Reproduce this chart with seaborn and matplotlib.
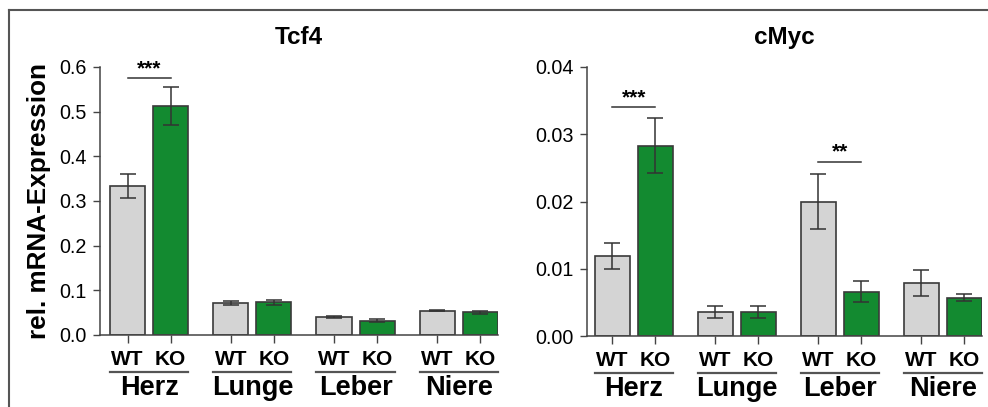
import numpy as np
import pandas as pd
import matplotlib.pyplot as plt
import seaborn as sns
from matplotlib.lines import Line2D

tissues = ["Herz", "Lunge", "Leber", "Niere"]
genotypes = ["WT", "KO"]

tcf4_wt = [0.333, 0.072, 0.041, 0.054]
tcf4_wt_err = [0.027, 0.004, 0.002, 0.001]
tcf4_ko = [0.513, 0.073, 0.032, 0.051]
tcf4_ko_err = [0.042, 0.005, 0.003, 0.003]

cmyc_wt = [0.0119, 0.0036, 0.0200, 0.0079]
cmyc_wt_err = [0.0019, 0.0009, 0.0041, 0.0019]
cmyc_ko = [0.0283, 0.0036, 0.0066, 0.0057]
cmyc_ko_err = [0.0041, 0.0009, 0.0016, 0.0005]

# significance brackets: (tissue index, height, stars)
tcf4_sig = [(0, 0.575, "***")]
cmyc_sig = [(0, 0.034, "***"), (2, 0.0259, "**")]

colors = {"WT": "#d4d4d4", "KO": "#138a30"}
edge = "#3a3a3a"

plt.rcParams['font.family'] = ['Liberation Sans', 'DejaVu Sans']


def make_df(wt, wt_err, ko, ko_err):
    rows = []
    for i, t in enumerate(tissues):
        rows.append({"tissue": t, "genotype": "WT", "value": wt[i], "err": wt_err[i]})
        rows.append({"tissue": t, "genotype": "KO", "value": ko[i], "err": ko_err[i]})
    return pd.DataFrame(rows)


def draw_panel(ax, df, title, ylim, yticks, yfmt, xlim, sig):
    sns.barplot(data=df, x="tissue", y="value", hue="genotype", hue_order=genotypes,
                order=tissues, errorbar=None, width=0.835, gap=0.185, saturation=1,
                palette=colors, edgecolor=edge, linewidth=1.2, legend=False, ax=ax)

    centers = {}
    for k, g in enumerate(genotypes):
        for i, t in enumerate(tissues):
            p = ax.patches[k * len(tissues) + i]
            cx = p.get_x() + p.get_width() / 2
            centers[(t, g)] = cx
            row = df[(df.tissue == t) & (df.genotype == g)].iloc[0]
            ax.errorbar(cx, row["value"], yerr=row["err"], color="#333333",
                        lw=1.1, capsize=5.5, capthick=1.1, zorder=5)

    ax.set_ylim(*ylim)
    ax.set_yticks(yticks)
    ax.set_yticklabels([yfmt.format(v) for v in yticks], fontsize=14.2)
    ax.set_xlim(*xlim)

    xt = [centers[(t, g)] for t in tissues for g in genotypes]
    xl = [g for t in tissues for g in genotypes]
    ax.set_xticks(xt)
    ax.set_xticklabels(xl, fontsize=15, fontweight="bold")
    ax.tick_params(axis="x", length=6, width=1, color="#444444", pad=5)
    ax.tick_params(axis="y", length=5, width=1, color="#444444", pad=4.5)
    ax.set_xlabel("")
    ax.set_ylabel("")
    sns.despine(ax=ax)
    for s in ["left", "bottom"]:
        ax.spines[s].set_color("#444444")
        ax.spines[s].set_linewidth(1.1)

    trans = ax.get_xaxis_transform()
    for t in tissues:
        x0 = centers[(t, "WT")] - 0.17
        x1 = centers[(t, "KO")] + 0.17
        ax.plot([x0, x1], [-0.138, -0.138], transform=trans, color="#555555",
                lw=1.6, clip_on=False)
        ax.text((x0 + x1) / 2, -0.197, t, transform=trans, ha="center", va="center",
                fontsize=19.5, fontweight="bold")

    for i, h, stars in sig:
        t = tissues[i]
        x0, x1 = centers[(t, "WT")], centers[(t, "KO")]
        ax.plot([x0, x1], [h, h], color="#333333", lw=1.1)
        ax.text((x0 + x1) / 2, h, stars, ha="center", va="bottom", fontsize=15,
                fontweight="bold")

    ax.text(0.5, 1.0 + 29 / 268, title, transform=ax.transAxes, ha="center",
            va="center", fontsize=17.5, fontweight="bold")


fig = plt.figure(figsize=(9.88, 4.07), dpi=100)
ax1 = fig.add_axes([100 / 988, 72 / 407, 398 / 988, 268 / 407])
ax2 = fig.add_axes([587 / 988, 71 / 407, 395 / 988, 269 / 407])

draw_panel(ax1, make_df(tcf4_wt, tcf4_wt_err, tcf4_ko, tcf4_ko_err), "Tcf4",
           (0, 0.6), [0.0, 0.1, 0.2, 0.3, 0.4, 0.5, 0.6], "{:.1f}", (-0.476, 3.38), tcf4_sig)
draw_panel(ax2, make_df(cmyc_wt, cmyc_wt_err, cmyc_ko, cmyc_ko_err), "cMyc",
           (0, 0.04), [0.0, 0.01, 0.02, 0.03, 0.04], "{:.2f}", (-0.456, 3.38), cmyc_sig)

ax1.set_ylabel("rel. mRNA-Expression", fontsize=18.8, fontweight="bold", labelpad=6)

# frame around the figure (cropped on the right and bottom)
fx = 8.5 / 988
fy = 1 - 9.5 / 407
fig.add_artist(Line2D([fx, fx], [0, fy], transform=fig.transFigure, color="#555555", lw=1.5))
fig.add_artist(Line2D([fx, 1], [fy, fy], transform=fig.transFigure, color="#555555", lw=1.5))

fig.savefig("out.png", dpi=100)
